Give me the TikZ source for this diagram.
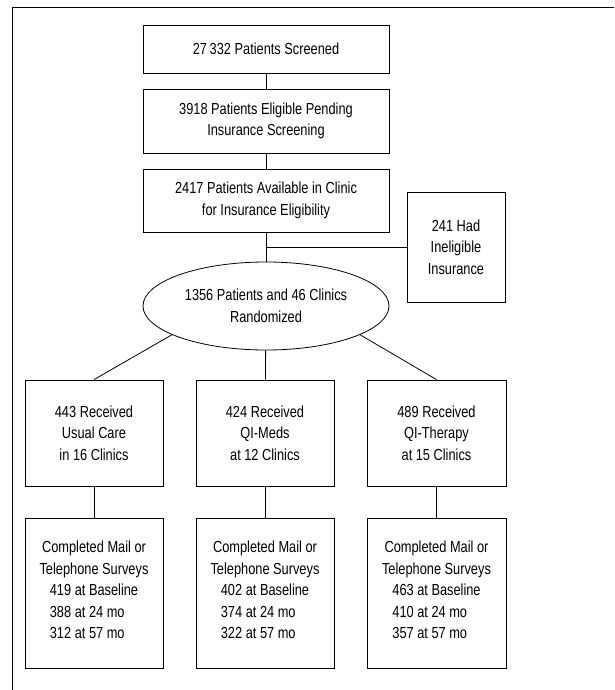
\documentclass[tikz,border=0pt]{standalone}
\usepackage{fontspec}
\setmainfont{Liberation Sans}[FakeStretch=0.8]
\usepackage{tikz}
\usetikzlibrary{shapes,positioning,calc}

\tikzset{
    stepbox/.style={draw, line width=0.8pt, align=center, inner sep=0pt,
        font=\fontsize{16}{21.5}\selectfont},
    link/.style={line width=0.8pt},
}

\begin{document}
\begin{tikzpicture}[x=1pt, y=-1pt]
    \useasboundingbox (0,0) rectangle (614,690);
    \draw[line width=1pt] (614,8) -- (12,8) -- (12,690);
    % screening steps
    \node[stepbox, minimum width=246pt, minimum height=48pt] (screened) at (266,49) {27\,332 Patients Screened};
    \node[stepbox, minimum width=246pt, minimum height=64pt] (pending) at (266,121) {3918 Patients Eligible Pending\\Insurance Screening};
    \node[stepbox, minimum width=246pt, minimum height=63pt] (available) at (266,200.5) {2417 Patients Available in Clinic\\for Insurance Eligibility};
    \node[stepbox, minimum width=98pt, minimum height=110pt] (inelig) at (456,247) {241 Had\\Ineligible\\Insurance};
    \node[stepbox, ellipse, minimum width=246pt, minimum height=88pt] (random) at (266,306) {1356 Patients and 46 Clinics\\Randomized};
    % arms
    \node[stepbox, minimum width=138pt, minimum height=106pt] (usual) at (94,433) {443 Received\\Usual Care\\in 16 Clinics};
    \node[stepbox, minimum width=138pt, minimum height=106pt] (meds) at (265,433) {424 Received\\QI-Meds\\at 12 Clinics};
    \node[stepbox, minimum width=139pt, minimum height=106pt] (therapy) at (436.5,433) {489 Received\\QI-Therapy\\at 15 Clinics};
    % surveys
    \node[stepbox, minimum width=138pt, minimum height=150pt] (survusual) at (94,593) {Completed Mail or\\Telephone Surveys\\\begin{tabular}[t]{@{}l@{}}419 at Baseline\\388 at 24 mo\\312 at 57 mo\end{tabular}};
    \node[stepbox, minimum width=138pt, minimum height=150pt] (survmeds) at (265,593) {Completed Mail or\\Telephone Surveys\\\begin{tabular}[t]{@{}l@{}}402 at Baseline\\374 at 24 mo\\322 at 57 mo\end{tabular}};
    \node[stepbox, minimum width=139pt, minimum height=150pt] (survtherapy) at (436.5,593) {Completed Mail or\\Telephone Surveys\\\begin{tabular}[t]{@{}l@{}}463 at Baseline\\410 at 24 mo\\357 at 57 mo\end{tabular}};
    % connectors
    \draw[link] (screened) -- (pending);
    \draw[link] (pending) -- (available);
    \draw[link] (available) -- (random);
    \draw[link] (available.south |- inelig.west) -- (inelig.west);
    \draw[link] (random.197) -- (usual.north);
    \draw[link] (random) -- (meds);
    \draw[link] (random.-17) -- (therapy.north);
    \draw[link] (usual) -- (survusual);
    \draw[link] (meds) -- (survmeds);
    \draw[link] (therapy) -- (survtherapy);
\end{tikzpicture}
\end{document}
